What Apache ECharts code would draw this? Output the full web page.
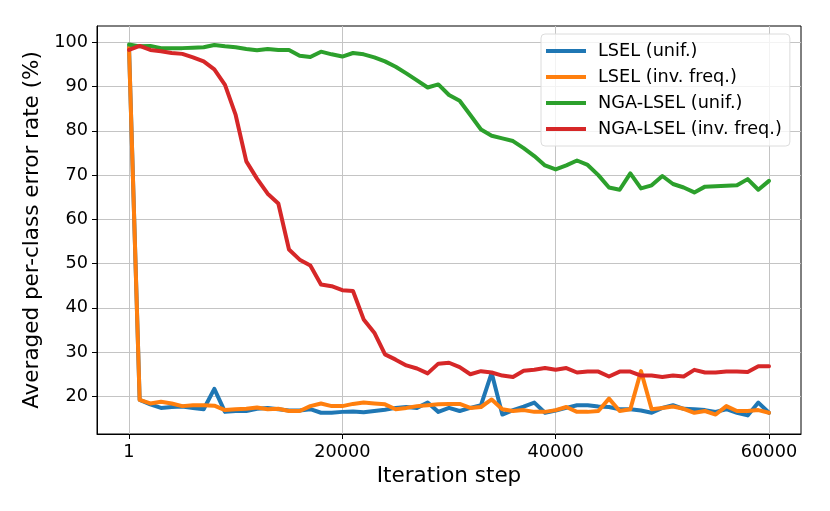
<!DOCTYPE html>
<html>
<head>
<meta charset="utf-8">
<script src="https://cdn.jsdelivr.net/npm/echarts@6/dist/echarts.min.js"></script>
<style>
  html, body { margin: 0; padding: 0; background: #fff; }
  #chart { width: 830px; height: 511px; }
</style>
</head>
<body>
<div id="chart"></div>
<script>
// iteration steps (one point every 1000)
var steps = [1, 1000, 2000, 3000, 4000, 5000, 6000, 7000, 8000, 9000,
    10000, 11000, 12000, 13000, 14000, 15000, 16000, 17000, 18000, 19000,
    20000, 21000, 22000, 23000, 24000, 25000, 26000, 27000, 28000, 29000,
    30000, 31000, 32000, 33000, 34000, 35000, 36000, 37000, 38000, 39000,
    40000, 41000, 42000, 43000, 44000, 45000, 46000, 47000, 48000, 49000,
    50000, 51000, 52000, 53000, 54000, 55000, 56000, 57000, 58000, 59000, 60000];

var lselUnif = [99.0, 19.2, 18.2, 17.4, 17.6, 17.7, 17.4, 17.1, 21.7, 16.5,
    16.7, 16.7, 17.2, 17.4, 17.1, 16.8, 16.8, 17.1, 16.3, 16.3,
    16.5, 16.6, 16.4, 16.7, 17.0, 17.4, 17.6, 17.4, 18.6, 16.5,
    17.4, 16.7, 17.4, 18.0, 25.3, 15.9, 16.9, 17.7, 18.6, 16.3,
    16.8, 17.4, 18.0, 18.0, 17.7, 17.6, 17.1, 17.1, 16.8, 16.3,
    17.4, 18.0, 17.2, 17.1, 16.9, 16.5, 17.1, 16.3, 15.7, 18.6, 16.3];

var lselInv = [98.8, 19.2, 18.4, 18.8, 18.4, 17.8, 18.0, 18.0, 17.9, 16.9,
    17.1, 17.2, 17.5, 17.1, 17.2, 16.7, 16.7, 17.8, 18.4, 17.8,
    17.8, 18.3, 18.6, 18.4, 18.2, 17.1, 17.4, 17.8, 18.0, 18.2,
    18.3, 18.3, 17.4, 17.6, 19.3, 17.1, 16.7, 16.9, 16.5, 16.5,
    16.9, 17.6, 16.5, 16.5, 16.7, 19.5, 16.7, 17.1, 25.7, 17.1,
    17.4, 17.7, 17.2, 16.3, 16.7, 15.9, 17.8, 16.7, 16.7, 16.9, 16.3];

var ngaUnif = [99.5, 99.1, 99.2, 98.7, 98.7, 98.7, 98.8, 98.9, 99.4, 99.1,
    98.9, 98.5, 98.2, 98.5, 98.3, 98.3, 97.0, 96.7, 97.9, 97.3,
    96.8, 97.6, 97.3, 96.6, 95.7, 94.5, 93.0, 91.4, 89.8, 90.5,
    88.1, 86.8, 83.6, 80.3, 78.9, 78.3, 77.7, 76.1, 74.3, 72.2,
    71.3, 72.2, 73.3, 72.3, 70.0, 67.2, 66.7, 70.4, 67.0, 67.7,
    69.8, 68.0, 67.2, 66.1, 67.4, 67.5, 67.6, 67.7, 69.1, 66.7, 68.7];

var ngaInv = [98.3, 99.2, 98.3, 98.0, 97.6, 97.4, 96.6, 95.7, 93.9, 90.4,
    83.6, 73.1, 69.2, 65.8, 63.6, 53.2, 50.9, 49.6, 45.3, 44.9,
    44.0, 43.8, 37.4, 34.4, 29.5, 28.3, 27.0, 26.3, 25.2, 27.4,
    27.6, 26.6, 25.0, 25.7, 25.4, 24.7, 24.4, 25.8, 26.0, 26.4,
    26.0, 26.4, 25.4, 25.6, 25.6, 24.5, 25.6, 25.6, 24.7, 24.7,
    24.4, 24.7, 24.5, 26.0, 25.4, 25.4, 25.6, 25.6, 25.5, 26.8, 26.8];

var seriesNames = ['LSEL (unif.)', 'LSEL (inv. freq.)', 'NGA-LSEL (unif.)', 'NGA-LSEL (inv. freq.)'];
var seriesColors = ['#1f77b4', '#ff7f0e', '#2ca02c', '#d62728'];
var xTicks = [1, 20000, 40000, 60000];
var yTicks = [20, 30, 40, 50, 60, 70, 80, 90, 100];

var dom   = document.getElementById('chart');
var chart = echarts.init(dom, null, {renderer: 'canvas'});

function pairs(vals) {
    var out = [];
    for (var i = 0; i < steps.length; i++) {
        out.push([steps[i], vals[i]]);
    }
    return out;
}

var allVals = [lselUnif, lselInv, ngaUnif, ngaInv];
var series = [];
for (var s = 0; s < allVals.length; s++) {
    series.push({
        name: seriesNames[s],
        type: 'line',
        data: pairs(allVals[s]),
        showSymbol: false,
        symbol: 'none',
        color: seriesColors[s],
        lineStyle: {width: 4, color: seriesColors[s], cap: 'round', join: 'round'}
    });
}

var font = 'DejaVu Sans';

option = {
    animation: false,
    textStyle: {fontFamily: font, color: '#000'},
    grid: {
        left: 97,
        right: 29,
        top: 26,
        bottom: 77,
        show: true,
        borderColor: '#000',
        borderWidth: 1,
        backgroundColor: 'transparent'
    },
    legend: {
        data: seriesNames,
        orient: 'vertical',
        left: 541,
        top: 34,
        padding: [7, 8, 7, 5],
        itemGap: 6,
        itemWidth: 40,
        itemHeight: 4,
        icon: 'rect',
        backgroundColor: 'rgba(255,255,255,0.8)',
        borderColor: '#dcdcdc',
        borderWidth: 1,
        borderRadius: 4,
        textStyle: {
            fontFamily: font,
            fontSize: 17.7,
            lineHeight: 20,
            color: '#000',
            padding: [0, 0, 0, 7]
        }
    },
    xAxis: {
        type: 'value',
        min: -2999,
        max: 63000,
        name: 'Iteration step',
        nameLocation: 'middle',
        nameGap: 31,
        nameTextStyle: {fontFamily: font, fontSize: 21.5, color: '#000'},
        axisLine: {show: true, onZero: false, lineStyle: {color: '#000', width: 1}},
        axisTick: {show: true, inside: false, length: 5, customValues: xTicks,
                   lineStyle: {color: '#000'}},
        axisLabel: {customValues: xTicks, margin: 9, fontFamily: font,
                    fontSize: 17.7, color: '#000',
                    formatter: function (v) { return String(v); }},
        splitLine: {show: true, lineStyle: {color: '#c4c4c4', width: 1}}
    },
    yAxis: {
        type: 'value',
        min: 11.5,
        max: 103.7,
        name: 'Averaged per-class error rate (%)',
        nameLocation: 'middle',
        nameGap: 52,
        nameTextStyle: {fontFamily: font, fontSize: 21.5, color: '#000'},
        axisLine: {show: true, onZero: false, lineStyle: {color: '#000', width: 1}},
        axisTick: {show: true, inside: false, length: 5, customValues: yTicks,
                   lineStyle: {color: '#000'}},
        axisLabel: {customValues: yTicks, margin: 9, fontFamily: font,
                    fontSize: 17.7, color: '#000',
                    formatter: function (v) { return String(v); }},
        splitLine: {show: true, lineStyle: {color: '#c4c4c4', width: 1}}
    },
    series: series
};

chart.setOption(option, true);
</script>
</body>
</html>
